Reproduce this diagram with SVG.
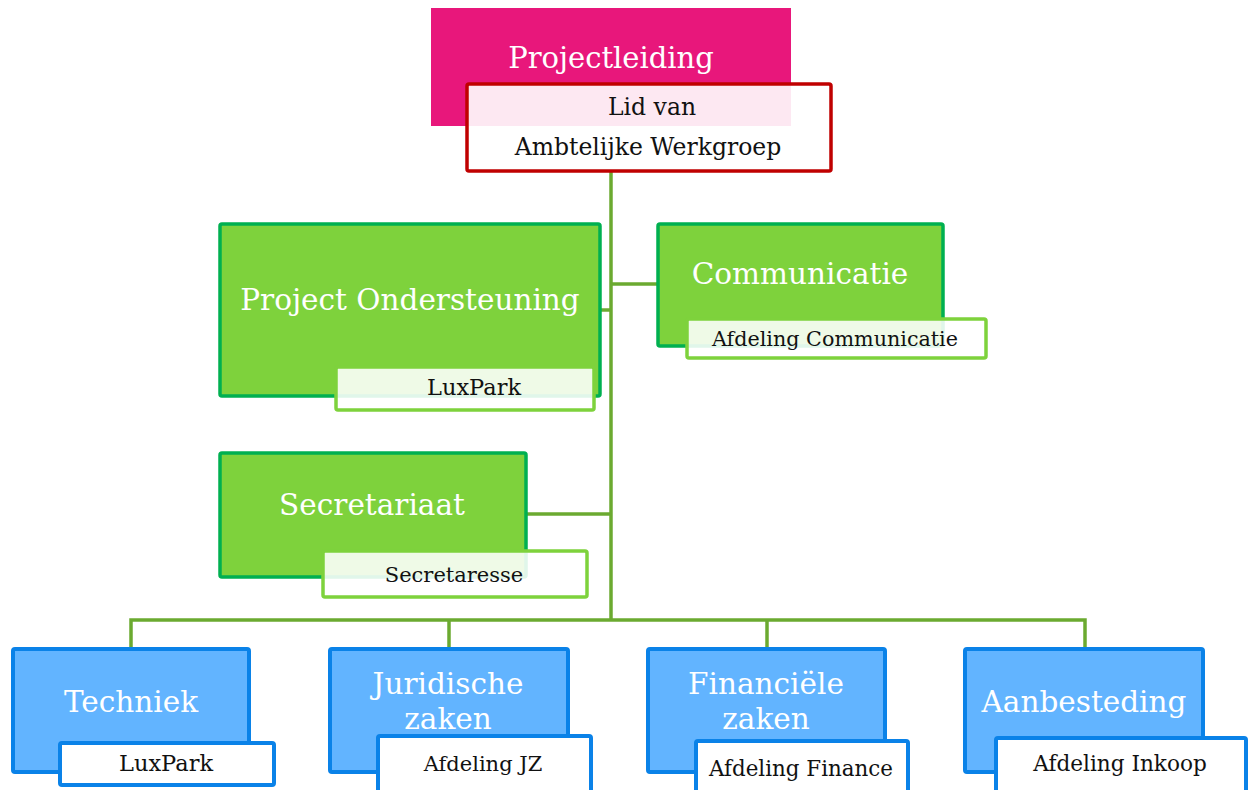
<svg xmlns="http://www.w3.org/2000/svg" width="1252" height="790" viewBox="0 0 1252 790">
<style>
.main{font-family:"DejaVu Serif","Liberation Serif",serif;fill:#fff;text-anchor:middle;font-size:29.5px}
.sub{font-family:"DejaVu Serif","Liberation Serif",serif;fill:#111;text-anchor:middle;font-size:21px}
.g{fill:#7ED23C;stroke:#00B050;stroke-width:3.5}
.gs{fill:#fff;fill-opacity:0.88;stroke:#7ED23C;stroke-width:3.5}
.b{fill:#62B4FF;stroke:#0A82E8;stroke-width:4}
.bs{fill:#fff;stroke:#0A82E8;stroke-width:4}
.conn{fill:none;stroke:#6BAA30;stroke-width:3.5}
</style>
<rect width="1252" height="790" fill="#fff"/>
<g id="connectors" class="conn">
<path d="M611 172V620"/>
<path d="M611 284H657"/>
<path d="M600 310H611"/>
<path d="M527 514H611"/>
<path d="M131 648V620H1085V648"/>
<path d="M449 620V648"/>
<path d="M767 620V648"/>
</g>
<g id="projectleiding">
<rect x="431" y="8" width="360" height="118" fill="#E8177B"/>
<text class="main" x="611" y="68" style="font-size:29px">Projectleiding</text>
<rect x="467" y="84" width="364" height="87" rx="2" fill="#fff" fill-opacity="0.9" stroke="#C00000" stroke-width="3.5"/>
<text class="sub" x="652" y="115" style="font-size:23.5px">Lid van</text>
<text class="sub" x="648" y="155" style="font-size:23.5px">Ambtelijke Werkgroep</text>
</g>
<g id="ondersteuning">
<rect class="g" x="220" y="224" width="380" height="172" rx="2"/>
<text class="main" x="410" y="310">Project Ondersteuning</text>
<rect class="gs" x="336" y="367" width="258" height="43" rx="2"/>
<text class="sub" x="474" y="395" style="font-size:22.5px">LuxPark</text>
</g>
<g id="communicatie">
<rect class="g" x="658" y="224" width="285" height="122" rx="2"/>
<text class="main" x="800" y="284">Communicatie</text>
<rect class="gs" x="687" y="319" width="299" height="39" rx="2"/>
<text class="sub" x="835" y="346" style="font-size:20.7px">Afdeling Communicatie</text>
</g>
<g id="secretariaat">
<rect class="g" x="220" y="453" width="306" height="124" rx="2"/>
<text class="main" x="372" y="515">Secretariaat</text>
<rect class="gs" x="323" y="551" width="264" height="46" rx="2"/>
<text class="sub" x="454" y="582">Secretaresse</text>
</g>
<g id="techniek">
<rect class="b" x="13" y="649" width="236" height="123" rx="2"/>
<text class="main" x="131" y="712">Techniek</text>
<rect class="bs" x="60" y="743" width="214" height="42" rx="2"/>
<text class="sub" x="166" y="771" style="font-size:22.5px">LuxPark</text>
</g>
<g id="juridisch">
<rect class="b" x="330" y="649" width="238" height="123" rx="2"/>
<text class="main" x="448" y="694">Juridische</text>
<text class="main" x="448" y="729">zaken</text>
<rect class="bs" x="378" y="736" width="213" height="60" rx="2"/>
<text class="sub" x="483" y="771">Afdeling JZ</text>
</g>
<g id="financieel">
<rect class="b" x="648" y="649" width="237" height="123" rx="2"/>
<text class="main" x="766" y="694">Financiële</text>
<text class="main" x="766" y="729">zaken</text>
<rect class="bs" x="696" y="741" width="212" height="55" rx="2"/>
<text class="sub" x="801" y="776" style="font-size:21.4px">Afdeling Finance</text>
</g>
<g id="aanbesteding">
<rect class="b" x="965" y="649" width="238" height="123" rx="2"/>
<text class="main" x="1084" y="712">Aanbesteding</text>
<rect class="bs" x="996" y="738" width="250" height="58" rx="2"/>
<text class="sub" x="1120" y="771" style="font-size:21.6px">Afdeling Inkoop</text>
</g>
</svg>
